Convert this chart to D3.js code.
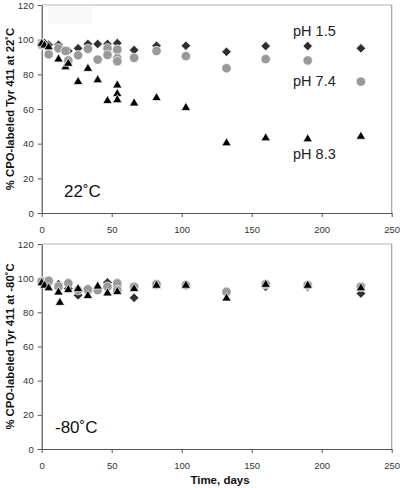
<!DOCTYPE html>
<html><head><meta charset="utf-8">
<script src="https://cdn.jsdelivr.net/npm/d3@7"></script>
<style>body{margin:0;background:#fff}svg{display:block;font-family:"Liberation Sans",Arial,sans-serif}</style>
</head><body><svg id="c" width="400" height="488"></svg>
<script>
// ---- data ----
const xTicks = [0, 50, 100, 150, 200, 250];
const yTicks = [0, 20, 40, 60, 80, 100, 120];
const seriesNames = ["pH 1.5", "pH 7.4", "pH 8.3"];
// Top panel (22 °C): [day, %]
const top_pH15 = [[0,98],[2,98],[5,97],[12,97],[19,93.5],[26,95],[33,97.5],[40,97.5],[47,97.5],[54,98],[54,93],[66,94],[82,96.5],[103,96.5],[132,93],[160,96.3],[190,96.3],[228,95]];
const top_pH74 = [[0,97],[5,91.5],[12,95],[17,93.5],[19,88],[26,91],[33,94.7],[40,88.5],[47,95],[47,91.2],[54,94.3],[54,89.3],[54,87.5],[66,89.5],[82,93.5],[103,90.5],[132,83.5],[160,88.8],[190,88],[228,75.8]];
const top_pH83 = [[0,98],[2,97],[5,96],[12,89],[17,84.5],[19,86.5],[26,76],[33,83.6],[40,77],[47,65],[54,74],[54,69],[54,65.5],[66,63.6],[82,66.7],[103,61],[132,40.6],[160,43.5],[190,42.9],[228,44.4]];
// Bottom panel (-80 °C)
const bot_pH15 = [[0,98],[2,97.5],[5,97],[12,96.5],[19,94],[26,90],[33,92],[40,94],[47,97.5],[54,95],[66,88.5],[82,96],[103,95.5],[132,91.5],[160,95],[190,95],[228,91]];
const bot_pH74 = [[0,98],[5,98.5],[12,95],[19,97],[26,93],[33,93.5],[40,93],[47,95],[54,97],[54,93],[66,95],[82,96.5],[103,96],[132,92],[160,96.5],[190,96],[228,95]];
const bot_pH83 = [[0,97.5],[2,96],[5,94.5],[12,92],[13,86],[19,93.5],[26,94],[33,90],[40,95.5],[47,91.5],[54,92.3],[66,94],[82,96],[103,96],[132,88.5],[160,96.5],[190,96],[228,94.5]];

const svg = d3.select("#c");
const x = d3.scaleLinear().domain([0,250]).range([41.7,391.7]);

const sym = {
  "pH 1.5": {type: d3.symbolDiamond2, size: 58, fill: "#2e2e2e"},
  "pH 7.4": {type: d3.symbolCircle, size: 70, fill: "#999999"},
  "pH 8.3": {type: d3.symbolTriangle, size: 38, fill: "#000000"}
};

function panel(y0, y1, data, tempLabel, yTitle, showLegend) {
  const y = d3.scaleLinear().domain([0,120]).range([y1,y0]);
  const g = svg.append("g");
  if (showLegend) {
    g.append("rect").attr("x",47.7).attr("y",6.7).attr("width",44).attr("height",17.3).attr("fill","#f8f8f8");
  }
  // frame
  g.append("line").attr("x1",x(0)).attr("x2",x(250)).attr("y1",y(120)).attr("y2",y(120)).attr("stroke","#b5b5b5").attr("stroke-width",1.2);
  g.append("line").attr("x1",x(250)).attr("x2",x(250)).attr("y1",y(120)).attr("y2",y(0)).attr("stroke","#a0a0a0").attr("stroke-width",1.2);
  // axes
  const ax = g.append("g").attr("transform",`translate(0,${y(0)})`)
    .call(d3.axisBottom(x).tickValues(xTicks).tickSize(4).tickPadding(9).tickSizeOuter(0));
  const ay = g.append("g").attr("transform",`translate(${x(0)},0)`)
    .call(d3.axisLeft(y).tickValues(yTicks).tickSize(4).tickPadding(4).tickSizeOuter(0));
  [ax, ay].forEach(a => {
    a.select(".domain").attr("stroke","#555").attr("stroke-width",1.2);
    a.selectAll(".tick line").attr("stroke","#555");
    a.selectAll(".tick text").attr("fill","#333").style("font-size","9.5px").style("font-family","'Liberation Sans',Arial,sans-serif");
  });
  // y title
  g.append("text").attr("transform",`translate(14,${(y0+y1)/2}) rotate(-90)`)
    .attr("text-anchor","middle").attr("font-weight","bold").attr("font-size","11.3px").attr("fill","#111").text(yTitle);
  // temperature label
  g.append("text").attr("x", tempLabel.x).attr("y", y1 - 16).attr("font-size","17px").attr("fill","#111").text(tempLabel.t);
  // points
  seriesNames.forEach((name, i) => {
    const s = sym[name];
    g.append("g").selectAll("path").data(data[i]).join("path")
      .attr("d", d3.symbol().type(s.type).size(s.size))
      .attr("transform", d => `translate(${x(d[0])},${y(d[1]) + (s.type===d3.symbolTriangle?0.5:0)})`)
      .attr("fill", s.fill).attr("stroke","#fff").attr("stroke-width",0.7);
  });
  return y;
}

const yTop = panel(5, 213, [top_pH15, top_pH74, top_pH83], {x:64, t:"22˚C"}, "% CPO-labeled Tyr 411 at 22˚C", true);
const yBot = panel(244, 449, [bot_pH15, bot_pH74, bot_pH83], {x:55, t:"-80˚C"}, "% CPO-labeled Tyr 411 at -80˚C", false);

// series labels (top panel)
const lab = [{t: seriesNames[0], v: 102}, {t: seriesNames[1], v: 73}, {t: seriesNames[2], v: 31}];
svg.append("g").selectAll("text").data(lab).join("text")
  .attr("x", 293).attr("y", d => yTop(d.v)).attr("font-size","14.5px").attr("fill","#222").text(d => d.t);

svg.append("text").attr("x", 220).attr("y", 484).attr("text-anchor","middle")
  .attr("font-weight","bold").attr("font-size","11.5px").attr("fill","#111").text("Time, days");
</script></body></html>
